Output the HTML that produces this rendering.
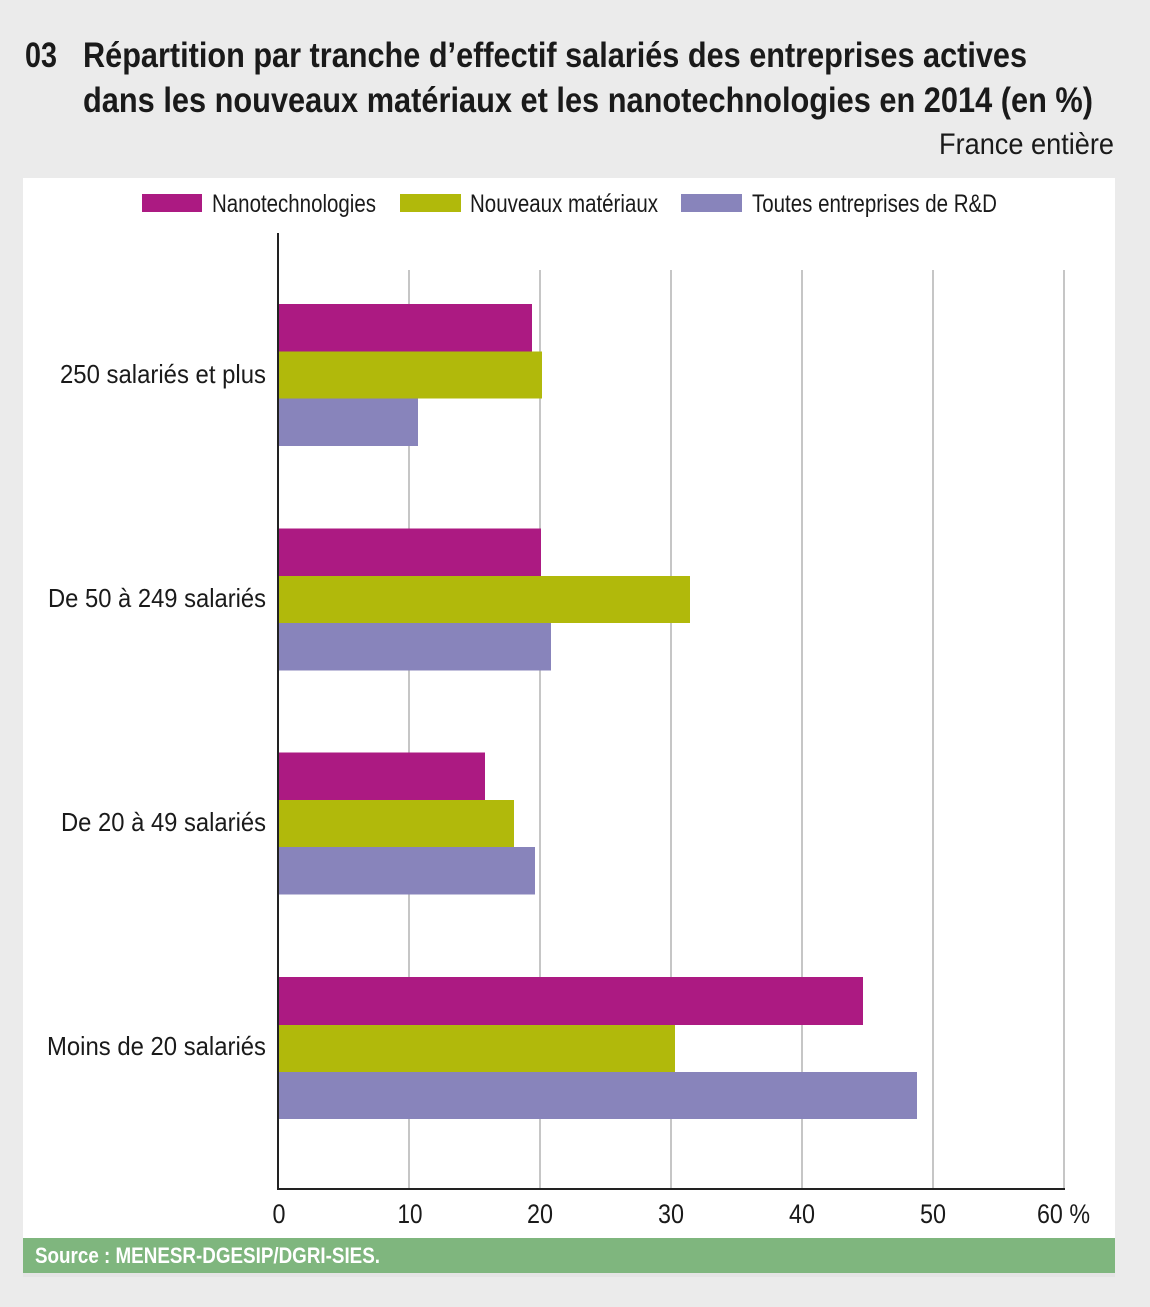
<!DOCTYPE html>
<html>
<head>
<meta charset="utf-8">
<style>
  html, body { margin: 0; padding: 0; background: #ebebeb; }
  svg { display: block; }
  text { font-family: "Liberation Sans", "DejaVu Sans", sans-serif; fill: #1a1a1a; }
</style>
</head>
<body>
<svg width="1150" height="1307" viewBox="0 0 1150 1307" xmlns="http://www.w3.org/2000/svg">
  <rect x="0" y="0" width="1150" height="1307" fill="#ebebeb"/>

  <!-- Title -->
  <text x="25" y="67" font-size="35" font-weight="bold" textLength="32" lengthAdjust="spacingAndGlyphs">03</text>
  <text x="83" y="67" font-size="35" font-weight="bold" textLength="944" lengthAdjust="spacingAndGlyphs">Répartition par tranche d’effectif salariés des entreprises actives</text>
  <text x="83" y="112" font-size="35" font-weight="bold" textLength="1010" lengthAdjust="spacingAndGlyphs">dans les nouveaux matériaux et les nanotechnologies en 2014 (en %)</text>
  <text x="939" y="154" font-size="30" textLength="175" lengthAdjust="spacingAndGlyphs">France entière</text>

  <!-- Panel -->
  <rect x="23" y="178" width="1092" height="1060" fill="#ffffff"/>
  <rect x="23" y="1273" width="1092" height="4" fill="#e4e4e4"/>
  <rect x="23" y="1238" width="1092" height="35" fill="#7fb67e"/>
  <text x="35" y="1263" font-size="22" font-weight="bold" style="fill:#ffffff" textLength="345" lengthAdjust="spacingAndGlyphs">Source : MENESR-DGESIP/DGRI-SIES.</text>

  <!-- Legend -->
  <rect x="142" y="194" width="60" height="18" fill="#ac1a82"/>
  <text x="212" y="212" font-size="25" textLength="164" lengthAdjust="spacingAndGlyphs">Nanotechnologies</text>
  <rect x="400" y="194" width="61" height="18" fill="#b1b90b"/>
  <text x="470" y="212" font-size="25" textLength="188" lengthAdjust="spacingAndGlyphs">Nouveaux matériaux</text>
  <rect x="681" y="194" width="61" height="18" fill="#8884bb"/>
  <text x="752" y="212" font-size="25" textLength="245" lengthAdjust="spacingAndGlyphs">Toutes entreprises de R&amp;D</text>

  <!-- Gridlines -->
  <g stroke="#b4b4b4" stroke-width="1.5">
    <line x1="409" y1="270" x2="409" y2="1189"/>
    <line x1="540" y1="270" x2="540" y2="1189"/>
    <line x1="671" y1="270" x2="671" y2="1189"/>
    <line x1="802" y1="270" x2="802" y2="1189"/>
    <line x1="933" y1="270" x2="933" y2="1189"/>
    <line x1="1064" y1="270" x2="1064" y2="1189"/>
  </g>

  <!-- Bars -->
  <rect x="279" y="304" width="253" height="47.5" fill="#ac1a82"/>
  <rect x="279" y="351.5" width="263" height="47" fill="#b1b90b"/>
  <rect x="279" y="398.5" width="139" height="47.5" fill="#8884bb"/>

  <rect x="279" y="528.5" width="262" height="47.5" fill="#ac1a82"/>
  <rect x="279" y="576" width="411" height="47" fill="#b1b90b"/>
  <rect x="279" y="623" width="272" height="47.5" fill="#8884bb"/>

  <rect x="279" y="752.5" width="206" height="47.5" fill="#ac1a82"/>
  <rect x="279" y="800" width="235" height="47" fill="#b1b90b"/>
  <rect x="279" y="847" width="256" height="47.5" fill="#8884bb"/>

  <rect x="279" y="977" width="584" height="48" fill="#ac1a82"/>
  <rect x="279" y="1025" width="396" height="47" fill="#b1b90b"/>
  <rect x="279" y="1072" width="638" height="47" fill="#8884bb"/>

  <!-- Axes -->
  <line x1="278" y1="233" x2="278" y2="1190" stroke="#222" stroke-width="2"/>
  <line x1="277" y1="1189" x2="1065" y2="1189" stroke="#222" stroke-width="2"/>

  <!-- Category labels -->
  <text x="266" y="383" font-size="26" text-anchor="end" textLength="206" lengthAdjust="spacingAndGlyphs">250 salariés et plus</text>
  <text x="266" y="607" font-size="26" text-anchor="end" textLength="218" lengthAdjust="spacingAndGlyphs">De 50 à 249 salariés</text>
  <text x="266" y="831" font-size="26" text-anchor="end" textLength="205" lengthAdjust="spacingAndGlyphs">De 20 à 49 salariés</text>
  <text x="266" y="1055" font-size="26" text-anchor="end" textLength="219" lengthAdjust="spacingAndGlyphs">Moins de 20 salariés</text>

  <!-- Tick labels -->
  <g font-size="27" text-anchor="middle">
    <text x="279" y="1223" textLength="13" lengthAdjust="spacingAndGlyphs">0</text>
    <text x="410" y="1223" textLength="25" lengthAdjust="spacingAndGlyphs">10</text>
    <text x="540" y="1223" textLength="26" lengthAdjust="spacingAndGlyphs">20</text>
    <text x="671" y="1223" textLength="26" lengthAdjust="spacingAndGlyphs">30</text>
    <text x="802" y="1223" textLength="26" lengthAdjust="spacingAndGlyphs">40</text>
    <text x="933" y="1223" textLength="26" lengthAdjust="spacingAndGlyphs">50</text>
  </g>
  <text x="1037" y="1223" font-size="27" textLength="53" lengthAdjust="spacingAndGlyphs">60 %</text>
</svg>
</body>
</html>
